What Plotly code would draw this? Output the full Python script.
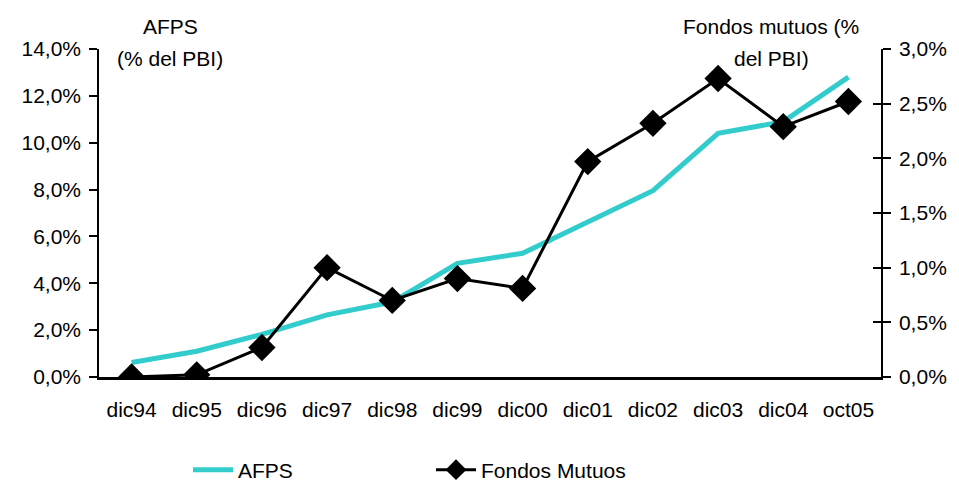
import plotly.graph_objects as go

# Periodos (fin de año, último dato a octubre 2005)
periodos = ["dic94", "dic95", "dic96", "dic97", "dic98", "dic99",
            "dic00", "dic01", "dic02", "dic03", "dic04", "oct05"]

# Fondo de AFPs, % del PBI (eje izquierdo)
afps = [0.62, 1.1, 1.82, 2.65, 3.2, 4.85, 5.28, 6.6, 7.95, 10.4, 10.9, 12.8]

# Fondos mutuos, % del PBI (eje derecho)
fondos_mutuos = [0.0, 0.02, 0.27, 1.0, 0.70, 0.9, 0.81, 1.97, 2.32, 2.73, 2.29, 2.52]

FONT = "Liberation Sans, Arial, sans-serif"
FS = 21

fig = go.Figure()

fig.add_trace(go.Scatter(
    x=periodos, y=afps, name="AFPS", mode="lines",
    line=dict(color="#33CCCC", width=5),
    yaxis="y",
))

fig.add_trace(go.Scatter(
    x=periodos, y=fondos_mutuos, name="Fondos Mutuos", mode="lines+markers",
    line=dict(color="black", width=3),
    marker=dict(symbol="diamond", size=21, color="black"),
    yaxis="y2",
))

# Invisible helper so the right axis gets ticks crossing its line
fig.add_trace(go.Scatter(x=periodos, y=fondos_mutuos, yaxis="y3",
                         mode="none", showlegend=False, hoverinfo="skip"))

PLOT_W, PLOT_H = 782, 328

fig.update_layout(
    width=959, height=481,
    margin=dict(l=99, r=78, t=49, b=104, pad=0, autoexpand=False),
    paper_bgcolor="white", plot_bgcolor="white",
    separators=",.",
    font=dict(family=FONT, size=FS, color="black"),
    showlegend=True,
    legend=dict(
        orientation="h", x=(188 - 99) / PLOT_W, xanchor="left",
        y=-(470 - 377) / PLOT_H, yanchor="middle",
        font=dict(size=FS), entrywidth=188, entrywidthmode="pixels",
        bgcolor="rgba(0,0,0,0)", tracegroupgap=0, itemwidth=40,
    ),
    xaxis=dict(
        type="category", range=[-0.5, 11.5],
        showline=True, linecolor="black", linewidth=3,
        ticks="", showgrid=False, zeroline=False,
        tickfont=dict(size=FS), ticklabelstandoff=12,
    ),
    yaxis=dict(
        range=[0, 14], dtick=2, tick0=0,
        tickformat=".1f", ticksuffix="%",
        showline=True, linecolor="black", linewidth=1.5,
        ticks="outside", ticklen=8, tickwidth=1.5, tickcolor="black",
        showgrid=False, zeroline=False, tickfont=dict(size=FS),
        ticklabelstandoff=4,
    ),
    yaxis2=dict(
        range=[0, 3], dtick=0.5, tick0=0,
        tickformat=".1f", ticksuffix="%",
        overlaying="y", side="right", anchor="x",
        showline=True, linecolor="black", linewidth=1.5,
        ticks="outside", ticklen=8, tickwidth=1.5, tickcolor="black",
        showgrid=False, zeroline=False, tickfont=dict(size=FS),
        ticklabelstandoff=4,
    ),
    yaxis3=dict(
        range=[0, 3], dtick=0.5, tick0=0,
        overlaying="y", side="right", anchor="x",
        showline=False, showticklabels=False,
        ticks="inside", ticklen=8, tickwidth=1.5, tickcolor="black",
        showgrid=False, zeroline=False,
    ),
)

# Axis titles above the plot, one annotation per line
def titulo(texto, x_px, y_px):
    fig.add_annotation(text=texto, xref="paper", yref="paper",
                       x=(x_px - 99) / PLOT_W, y=1 + (49 - y_px) / PLOT_H,
                       xanchor="center", yanchor="middle",
                       showarrow=False, font=dict(size=FS))

titulo("AFPS", 170, 27)
titulo("(% del PBI)", 170, 58)
titulo("Fondos mutuos (%", 771, 27)
titulo("del PBI)", 771, 58)

fig.write_html("out.html")
